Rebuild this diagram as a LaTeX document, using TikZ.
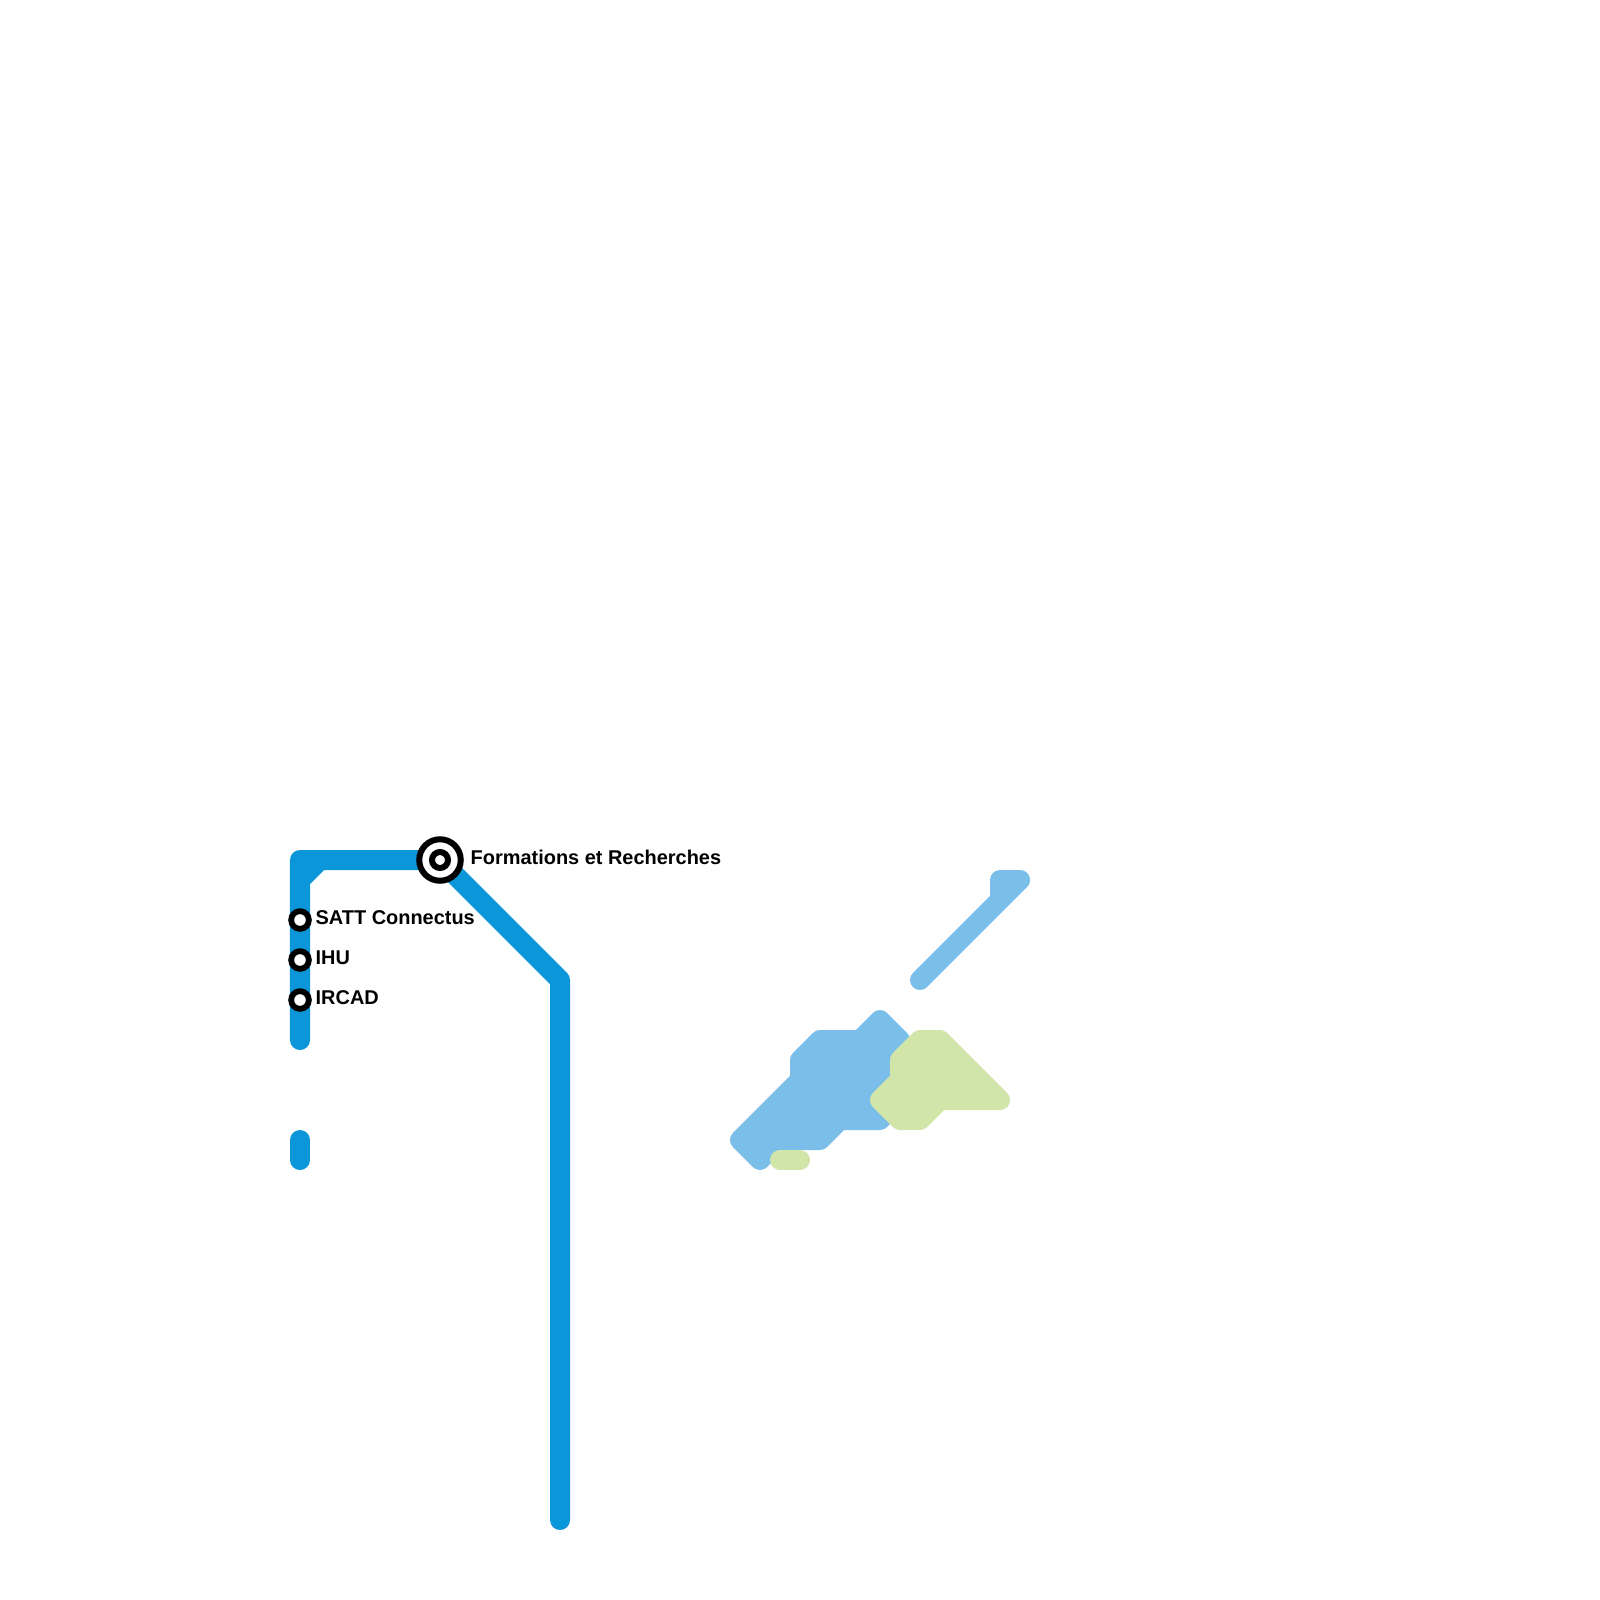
\documentclass[tikz,border=0pt]{standalone}
\usepackage{fontspec}
\usepackage{xcolor}
\setmainfont{Liberation Sans}
\usetikzlibrary{positioning,backgrounds}
\definecolor{lineblue}{HTML}{0A96D8}
\definecolor{paleblue}{HTML}{7BBEE9}
\definecolor{palegreen}{HTML}{D1E5A8}

\begin{document}
\begin{tikzpicture}[x=0.01cm,y=-0.01cm,every node/.style={font=\fontsize{5.67pt}{6.5pt}\selectfont\bfseries}]
\tikzstyle{metro}=[draw=lineblue, line width=5.69pt, line cap=round, line join=round]
\tikzstyle{paleline}=[draw=paleblue, line width=5.69pt, line cap=round, line join=round]
\tikzstyle{blueblob}=[metro, draw=paleblue, fill=paleblue]
\tikzstyle{greenblob}=[metro, draw=palegreen, fill=palegreen]
\tikzstyle{stop}=[circle, draw=black, fill=white, line width=1.65pt, inner sep=0pt, minimum size=5.03pt]
\tikzstyle{hubring}=[circle, draw=black, fill=white, line width=1.71pt, inner sep=0pt, minimum size=11.8pt]
\tikzstyle{hubdot}=[circle, draw=black, fill=white, line width=1.71pt, inner sep=0pt, minimum size=4.55pt]
\tikzstyle{stoplabel}=[inner sep=0pt, text=black]
\useasboundingbox (0,0) rectangle (1600,1600);
\node[hubring] (fr) at (440,860) {};
\node[hubdot] (frdot) at (440,860) {};
\node[stop] (satt) at (300,920) {};
\node[stop] (ihu) at (300,960) {};
\node[stop] (ircad) at (300,1000) {};
\node[stoplabel, right=1.78pt of fr, yshift=0.75pt] (frtxt) {Formations et Recherches};
\node[stoplabel, right=0.92pt of satt, yshift=0.65pt] (satttxt) {SATT Connectus};
\node[stoplabel, right=0.92pt of ihu, yshift=0.65pt] (ihutxt) {IHU};
\node[stoplabel, right=0.92pt of ircad, yshift=0.65pt] (ircadtxt) {IRCAD};
\coordinate (cornera) at (300,860);
\coordinate (cornerb) at (560,980);
\coordinate (ends) at (560,1520);
\coordinate (endw) at (300,1040);
\begin{scope}[on background layer]
\draw[metro] (endw) -- (cornera) -- (fr.center) -- (cornerb) -- (ends);
\draw[metro] (300,880) -- (320,860);
\draw[metro] (300,1140) -- (300,1160);
\draw[paleline] (920,980) -- (1020,880) -- (1000,880) -- (1000,900);
\filldraw[blueblob] (740,1140) -- (760,1160) -- (780,1140) -- (820,1140) -- (840,1120) -- (880,1120) -- (900,1100) -- (900,1040) -- (880,1020) -- (860,1040) -- (820,1040) -- (800,1060) -- (800,1080) -- cycle;
\filldraw[greenblob] (920,1040) -- (940,1040) -- (1000,1100) -- (940,1100) -- (920,1120) -- (900,1120) -- (880,1100) -- (900,1080) -- (900,1060) -- cycle;
\draw[metro, draw=palegreen] (780,1160) -- (800,1160);
\end{scope}
\end{tikzpicture}
\end{document}
